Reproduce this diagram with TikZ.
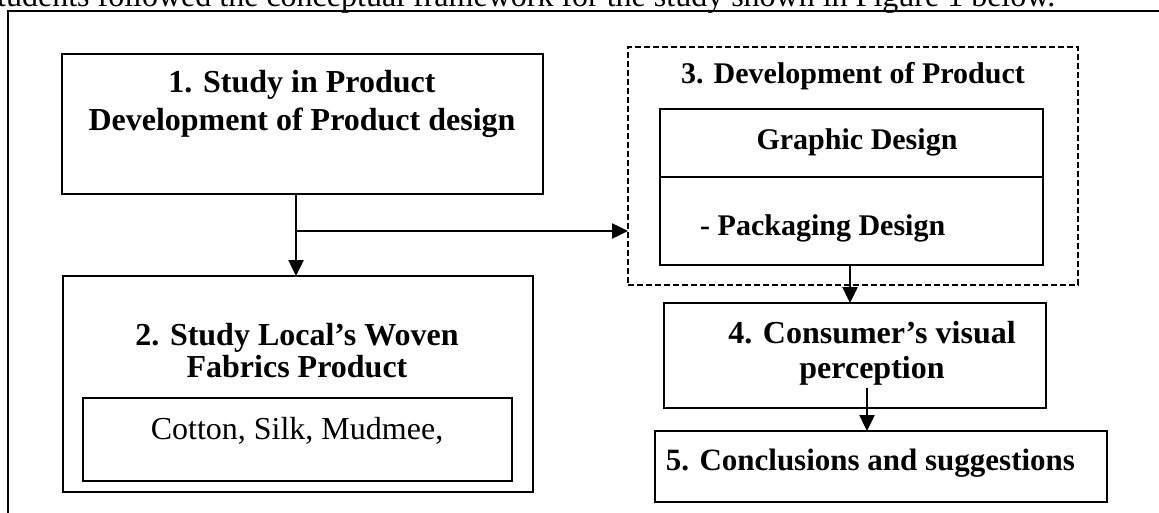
\documentclass[tikz,border=0pt]{standalone}
\usepackage{fontspec}
\setmainfont{Liberation Serif}
\usetikzlibrary{arrows.meta,calc}
\begin{document}
\begin{tikzpicture}[x=1pt,y=-1pt,
  box/.style={draw, line width=#1, inner sep=0pt, outer sep=0pt},
  box/.default=2pt,
  dashbox/.style={draw, line width=1.5pt, dash pattern=on 6pt off 3pt, inner sep=0pt, outer sep=0pt},
  txtb/.style={font=\bfseries\fontsize{#1}{#1}\selectfont, anchor=base, inner sep=0pt},
  txtb/.default=32,
  txtr/.style={font=\fontsize{32}{32}\selectfont, inner sep=0pt},
  arr/.style={line width=2.5pt, -{Triangle[length=16pt,width=15pt]}}]
\useasboundingbox (0,0) rectangle (1159,513);
\clip (0,0) rectangle (1159,513);
% cropped caption line
\node[txtr, anchor=base west] (cap) at (-3,7) {tudents followed the conceptual framework for the study shown in Figure 1 below.};
% outer frame
\coordinate (fbl) at (8,530);
\coordinate (ftl) at (8,11);
\coordinate (ftr) at (1175,11);
\draw[line width=2.5pt] (fbl) -- (ftl) -- (ftr);
% box 1
\node[box, minimum width=481pt, minimum height=140pt] (b1) at (302.5,124) {};
\node[txtb] (t1a) at (302,93) {1. Study in Product};
\node[txtb] (t1b) at (302,131) {Development of Product design};
% box 2
\node[box, minimum width=470pt, minimum height=216pt] (b2) at (298,384) {};
\node[txtb] (t2a) at (297,345) {2. Study Local’s Woven};
\node[txtb] (t2b) at (297,377) {Fabrics Product};
\node[box=1.5pt, minimum width=429pt, minimum height=83pt] (b2i) at (297.5,439.5) {};
\node[txtr, anchor=base] (t2c) at (297,439) {Cotton, Silk, Mudmee,};
% box 3 (dashed)
\node[dashbox, minimum width=450pt, minimum height=238pt] (b3) at (853,166) {};
\node[txtb=30] (t3) at (853,84) {3. Development of Product};
\node[box=1.5pt, minimum width=383pt, minimum height=68pt] (g1) at (851.5,143) {};
\node[txtb=30] (tg1) at (857,150) {Graphic Design};
\node[box=1.5pt, minimum width=383pt, minimum height=88pt] (g2) at (851.5,221) {};
\node[txtb=30, anchor=base west] (tg2) at (700,236) {- Packaging Design};
% box 4
\node[box=1.8pt, minimum width=382pt, minimum height=105pt] (b4) at (855,355.5) {};
\node[txtb] (t4a) at (872,343) {4. Consumer’s visual};
\node[txtb] (t4b) at (872,378) {perception};
% box 5
\node[box=1.8pt, minimum width=452pt, minimum height=71pt] (b5) at (881,466.5) {};
\node[txtb=31] (t5) at (870.5,470) {5. Conclusions and suggestions};
% connectors
\coordinate (j) at (296,231);
\draw[arr] (b1.south -| j) -- (b2.north -| j);
\draw[line width=2.5pt] (j) -- ++(10,0);
\draw[arr] (j) -- (j -| b3.west);
\coordinate (x3) at (850,0);
\draw[arr] (g2.south -| x3) -- (b4.north -| x3);
\coordinate (x4) at (867,0);
\draw[arr] ($(b4.south -| x4)+(0,-20)$) -- (b5.north -| x4);
\end{tikzpicture}
\end{document}
